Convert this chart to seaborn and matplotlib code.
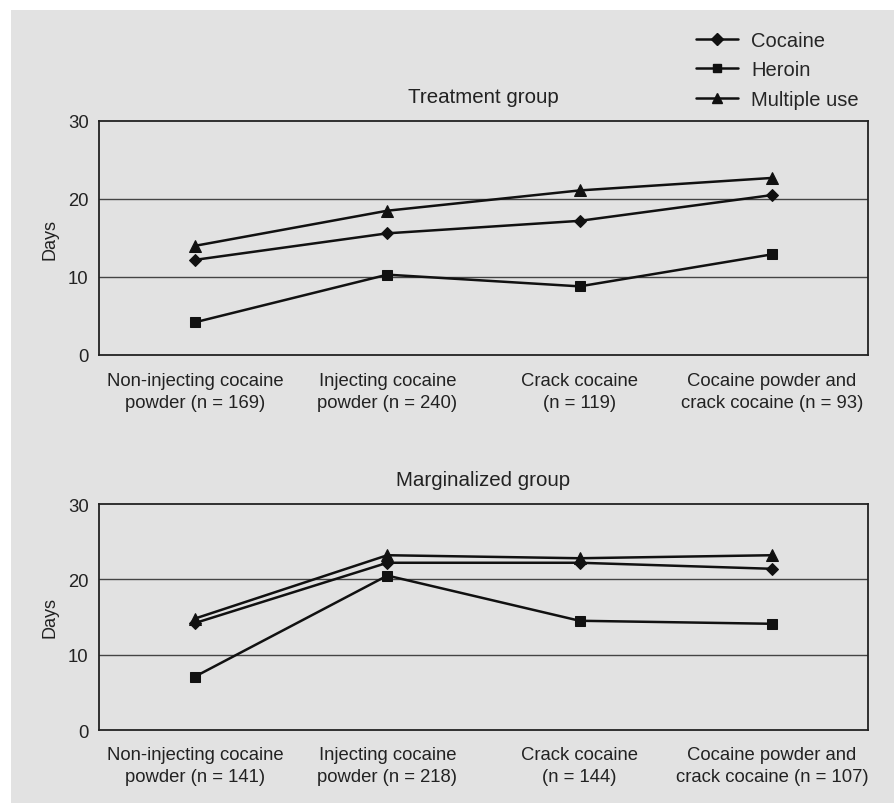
import matplotlib
matplotlib.use("Agg")
import matplotlib.pyplot as plt
import seaborn as sns
import pandas as pd
from matplotlib.lines import Line2D

sns.set_theme(style="white")
plt.rcParams['font.family'] = ['Liberation Sans', 'DejaVu Sans']

# ---- data ----
series = ["Cocaine", "Heroin", "Multiple use"]

treat_cats = ["Non-injecting cocaine\npowder (n = 169)", "Injecting cocaine\npowder (n = 240)",
              "Crack cocaine\n(n = 119)", "Cocaine powder and\ncrack cocaine (n = 93)"]
treat_cocaine = [12.2, 15.6, 17.2, 20.5]
treat_heroin = [4.2, 10.3, 8.8, 12.9]
treat_multiple = [14.0, 18.5, 21.1, 22.7]

marg_cats = ["Non-injecting cocaine\npowder (n = 141)", "Injecting cocaine\npowder (n = 218)",
             "Crack cocaine\n(n = 144)", "Cocaine powder and\ncrack cocaine (n = 107)"]
marg_cocaine = [14.2, 22.2, 22.2, 21.4]
marg_heroin = [7.1, 20.5, 14.5, 14.1]
marg_multiple = [14.8, 23.2, 22.8, 23.2]

yticks = [0, 10, 20, 30]

markers = {"Cocaine": "D", "Heroin": "s", "Multiple use": "^"}
msizes = {"Cocaine": 6.5, "Heroin": 7, "Multiple use": 8.5}
BG = "#e2e2e2"
TXT = "#222222"
FS = 13.3


def make_df(cats, vals):
    rows = []
    for s, v in zip(series, vals):
        for i, (c, y) in enumerate(zip(cats, v)):
            rows.append({"pos": i, "cat": c, "series": s, "days": y})
    return pd.DataFrame(rows)


fig = plt.figure(figsize=(8.95, 8.04), dpi=100)
fig.patch.set_facecolor("white")
fig.patches.append(plt.Rectangle((11 / 895, 0), 1 - 11 / 895, 1 - 11 / 804,
                                 transform=fig.transFigure, facecolor=BG,
                                 edgecolor="none", zorder=-10))

ax1 = fig.add_axes([99 / 895, 1 - 356 / 804, 769 / 895, 234 / 804])
ax2 = fig.add_axes([99 / 895, 1 - 731 / 804, 769 / 895, 226 / 804])

panels = [
    (ax1, treat_cats, [treat_cocaine, treat_heroin, treat_multiple], "Treatment group", 12.5),
    (ax2, marg_cats, [marg_cocaine, marg_heroin, marg_multiple], "Marginalized group", 11.5),
]

for ax, cats, vals, title, xpad in panels:
    df = make_df(cats, vals)
    ax.set_facecolor(BG)
    for s in series:
        sub = df[df["series"] == s]
        sns.lineplot(data=sub, x="pos", y="days", ax=ax, color="#111111",
                     marker=markers[s], markersize=msizes[s], markeredgecolor="#111111",
                     linewidth=1.8, legend=False, zorder=3)
    ax.set_xlim(-0.5, len(cats) - 0.5)
    ax.set_ylim(0, 30)
    ax.set_yticks(yticks)
    ax.set_yticklabels([str(t) for t in yticks], fontsize=FS, color=TXT)
    ax.set_xticks(range(len(cats)))
    ax.set_xticklabels(cats, fontsize=FS, color=TXT, linespacing=1.35)
    ax.set_xticks([i - 0.5 for i in range(len(cats) + 1)], minor=True)
    ax.tick_params(axis="x", which="major", length=0, pad=xpad)
    ax.tick_params(axis="x", which="minor", length=4.5, width=1.2, color=TXT, direction="out")
    ax.tick_params(axis="y", which="major", length=3.5, width=1.2, color=TXT, direction="out", pad=4)
    for y in [10, 20]:
        ax.axhline(y, color="#444444", linewidth=1.0, zorder=1)
    for sp in ax.spines.values():
        sp.set_visible(True)
        sp.set_color(TXT)
        sp.set_linewidth(1.3)
    ax.set_xlabel("")
    ax.set_ylabel("Days", fontsize=13, color=TXT, labelpad=7)
    ax.set_title(title, fontsize=14.8, color=TXT, pad=14)

handles = [Line2D([0], [0], color="#111111", linewidth=1.8, marker=markers[s],
                  markersize=msizes[s] * 0.9) for s in series]
fig.legend(handles, series, loc="upper left", bbox_to_anchor=(686 / 895, 1 - 21.5 / 804),
           frameon=False, fontsize=14.5, handlelength=2.1, handletextpad=0.65,
           labelspacing=0.53, borderpad=0)

fig.savefig("out.png", dpi=100, facecolor=fig.get_facecolor())
